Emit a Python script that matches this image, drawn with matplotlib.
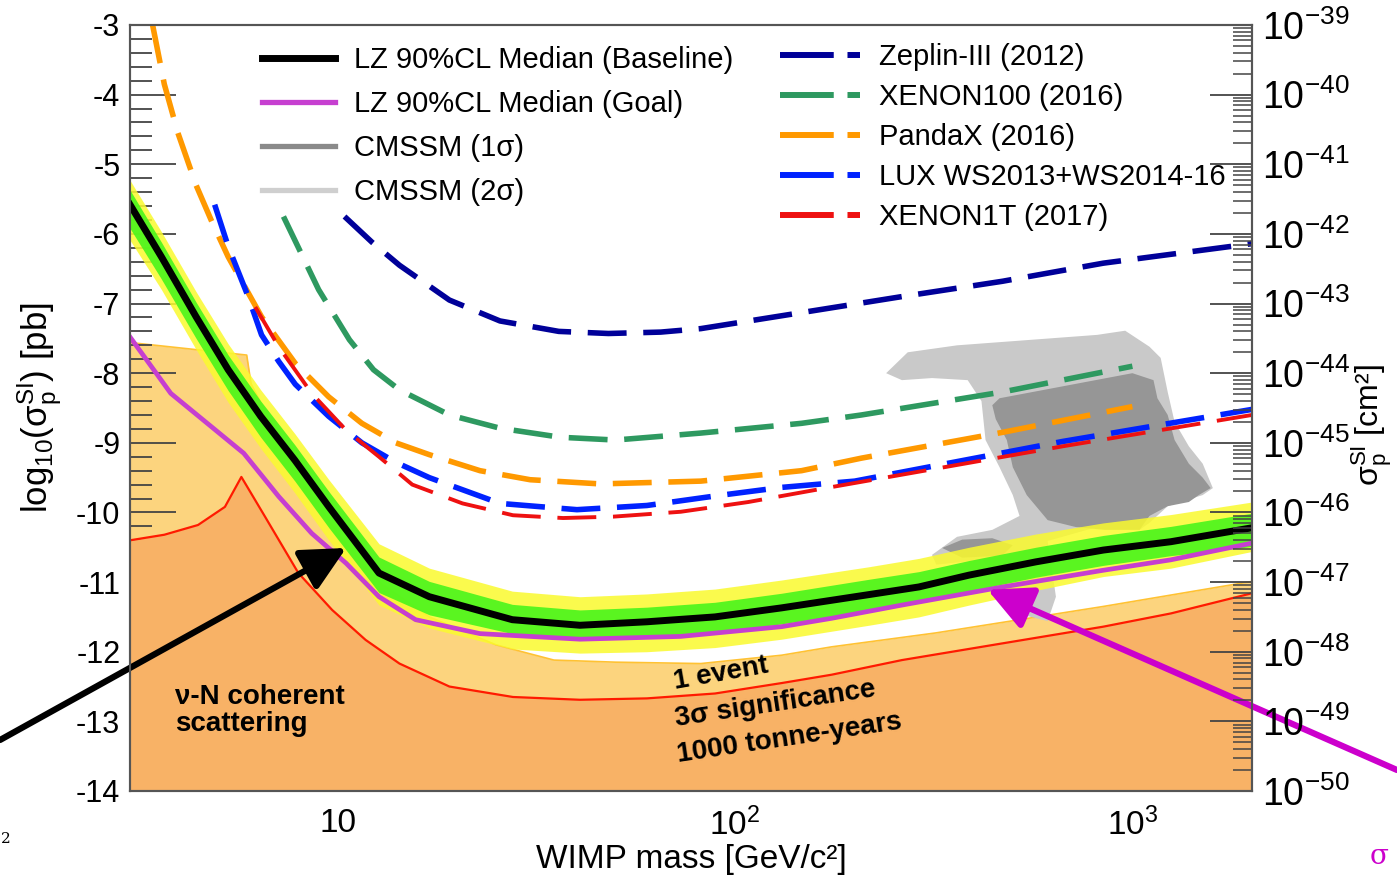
import numpy as np
import matplotlib
matplotlib.use('Agg')
from matplotlib import pyplot as plt
from matplotlib.lines import Line2D
from matplotlib.ticker import MultipleLocator, LogLocator, FixedLocator, NullFormatter, FuncFormatter

plt.rcParams['font.family'] = ['Liberation Sans', 'DejaVu Sans']
plt.rcParams['mathtext.fontset'] = 'custom'
plt.rcParams['mathtext.rm'] = 'Liberation Sans'
plt.rcParams['mathtext.it'] = 'Liberation Sans:italic'
plt.rcParams['mathtext.bf'] = 'Liberation Sans:bold'
plt.rcParams['axes.unicode_minus'] = False

# LZ projection (log10 sigma in pb), with 1 and 2 sigma bands
lz_mass = [3.0, 3.6, 4.4, 5.3, 6.4, 7.8, 9.5, 12.7, 17, 27.5, 40.7, 60, 89, 131, 217, 290, 388, 571, 845, 1250, 2000]
lz_base = [-5.58, -6.33, -7.19, -7.95, -8.62, -9.25, -9.92, -10.87, -11.21, -11.54, -11.62, -11.57, -11.50,
           -11.37, -11.18, -11.07, -10.90, -10.71, -10.54, -10.42, -10.22]
lz_g_hi = [-5.37, -6.12, -6.98, -7.74, -8.40, -9.03, -9.70, -10.64, -10.99, -11.32, -11.40, -11.36, -11.29,
           -11.16, -10.96, -10.85, -10.69, -10.50, -10.33, -10.20, -10.01]
lz_g_lo = [-5.92, -6.65, -7.50, -8.25, -8.92, -9.55, -10.22, -11.15, -11.47, -11.74, -11.80, -11.78, -11.72,
           -11.60, -11.41, -11.30, -11.13, -10.93, -10.76, -10.62, -10.49]
lz_y_hi = [-5.23, -5.97, -6.83, -7.58, -8.24, -8.87, -9.53, -10.45, -10.80, -11.13, -11.21, -11.17, -11.10,
           -10.97, -10.78, -10.66, -10.50, -10.31, -10.15, -10.03, -9.85]
lz_y_lo = [-6.09, -6.80, -7.66, -8.42, -9.08, -9.72, -10.40, -11.33, -11.66, -11.96, -12.02, -12.00, -11.94,
           -11.82, -11.62, -11.50, -11.33, -11.12, -10.92, -10.80, -10.56]

goal_mass = [3.0, 3.8, 5.8, 7.1, 8.6, 10.5, 12.7, 15.7, 22.8, 40.7, 73, 131, 175, 263, 471, 845, 1250, 2000]
goal = [-7.48, -8.29, -9.15, -9.77, -10.30, -10.73, -11.21, -11.54, -11.74, -11.82, -11.78, -11.64, -11.52,
        -11.33, -11.07, -10.83, -10.68, -10.44]

# existing limits
zep_mass = [10.4, 12.2, 14.3, 19.1, 25.6, 36, 48, 65, 82, 147, 263, 471, 845, 2000]
zep = [-5.75, -6.12, -6.45, -6.95, -7.25, -7.40, -7.43, -7.41, -7.36, -7.13, -6.90, -6.68, -6.42, -6.14]
x100_mass = [7.3, 8.95, 10.7, 12.3, 14.3, 19.1, 25.6, 36.3, 50, 82, 147, 208, 471, 1000]
x100 = [-5.75, -6.80, -7.52, -7.95, -8.24, -8.60, -8.79, -8.92, -8.96, -8.86, -8.72, -8.60, -8.27, -7.90]
pdx_mass = [3.42, 3.66, 3.96, 4.4, 4.8, 5.30, 6.43, 7.82, 9.49, 11.5, 14.0, 17.0, 22.8, 30.5, 45.8, 82, 147,
            208, 471, 1000]
pdx = [-3.0, -3.85, -4.55, -5.30, -5.80, -6.33, -7.19, -7.86, -8.34, -8.72, -9.00, -9.17, -9.40, -9.53, -9.59,
       -9.55, -9.40, -9.22, -8.85, -8.48]
lux_mass = [4.9, 5.3, 5.95, 6.43, 7.1, 7.82, 9.49, 11.5, 14.0, 17.0, 25.6, 40, 60, 90, 131, 200, 668, 2000]
lux = [-5.58, -6.18, -6.90, -7.45, -7.83, -8.16, -8.62, -9.00, -9.28, -9.50, -9.87, -9.96, -9.90, -9.76, -9.64,
       -9.55, -8.98, -8.52]
x1t_mass = [6.2, 7.1, 8.6, 10.5, 12.7, 15.4, 20.6, 27.6, 36.9, 49.4, 73, 108, 158, 668, 2000]
x1t = [-7.05, -7.62, -8.29, -8.82, -9.20, -9.60, -9.87, -10.04, -10.08, -10.06, -9.99, -9.85, -9.68, -9.05, -8.60]

# neutrino floors
nu1_mass = [3.0, 5.9, 6.05, 8.0, 10.0, 12.7, 17, 25, 30, 35, 50, 82, 131, 175, 320, 845, 2000]
nu1_top = [-7.56, -7.74, -8.15, -9.50, -10.30, -11.00, -11.50, -11.90, -12.02, -12.12, -12.15, -12.17, -12.05,
           -11.93, -11.73, -11.35, -10.99]
nu3_mass = [3.0, 3.66, 4.45, 5.2, 5.72, 6.56, 7.96, 9.68, 11.75, 14.3, 19.1, 27.6, 40.7, 60, 89, 131, 175,
            263, 471, 845, 1250, 2000]
nu3_top = [-10.40, -10.32, -10.18, -9.92, -9.49, -10.06, -10.87, -11.40, -11.83, -12.17, -12.50, -12.65, -12.69,
           -12.67, -12.60, -12.45, -12.33, -12.12, -11.88, -11.64, -11.45, -11.16]

# CMSSM regions
cm2_mass = [240, 272, 362, 815, 959, 1104, 1178, 1227, 1277, 1387, 1503, 1594, 1503, 1227, 1104, 1042, 815,
            612, 642, 612, 520, 420, 321, 313, 362, 444, 520, 500, 463, 427, 417, 385, 313, 263]
cm2_y = [-8.00, -7.70, -7.60, -7.45, -7.39, -7.62, -7.78, -8.27, -8.70, -9.05, -9.30, -9.65, -9.75, -9.91,
         -10.15, -10.25, -10.21, -10.41, -11.21, -11.56, -11.46, -10.68, -10.75, -10.61, -10.35, -10.25,
         -10.05, -9.75, -9.35, -8.96, -8.40, -8.10, -8.07, -8.10]
cm1_mass = [444, 463, 1000, 1130, 1156, 1227, 1277, 1387, 1503, 1574, 1469, 1387, 1227, 1104, 1042, 849, 721,
            612, 542, 500, 483, 453]
cm1_y = [-8.46, -8.36, -8.00, -8.10, -8.36, -8.60, -8.96, -9.30, -9.50, -9.65, -9.75, -9.85, -9.91, -10.05,
         -10.25, -10.25, -10.21, -10.11, -9.75, -9.35, -8.96, -8.66]
cm1b_mass = [332, 373, 444, 500, 471, 373]
cm1b_y = [-10.51, -10.39, -10.37, -10.47, -10.62, -10.65]

left_labels = ['LZ 90%CL Median (Baseline)', 'LZ 90%CL Median (Goal)', 'CMSSM (1σ)', 'CMSSM (2σ)']
right_labels = ['Zeplin-III (2012)', 'XENON100 (2016)', 'PandaX (2016)', 'LUX WS2013+WS2014-16', 'XENON1T (2017)']
cm2_decades = list(range(-50, -38))

fig = plt.figure(figsize=(13.97, 8.75), dpi=100)
ax = fig.add_axes([130 / 1397, 84 / 875, 1122 / 1397, 766 / 875])
ax.set_xscale('log')
ax.set_xlim(3, 2000)
ax.set_ylim(-14, -3)

ax.fill_between(nu1_mass, nu1_top, -14, color='#FCD47E', lw=0, zorder=1)
ax.plot(nu1_mass, nu1_top, color='#FFC233', lw=1.2, zorder=1.1)
ax.fill_between(nu3_mass, nu3_top, -14, color='#F8B266', lw=0, zorder=2)
ax.plot(nu3_mass, nu3_top, color='#FF1A00', lw=1.6, zorder=3)

ax.fill(cm2_mass, cm2_y, color='#C9C9C9', lw=0, zorder=3)
ax.fill(cm1_mass, cm1_y, color='#969696', lw=0, zorder=3.1)
ax.fill(cm1b_mass, cm1b_y, color='#969696', lw=0, zorder=3.1)

ax.fill_between(lz_mass, lz_y_lo, lz_y_hi, color='#FAFA2E', alpha=0.85, lw=0, zorder=4)
ax.fill_between(lz_mass, lz_g_lo, lz_g_hi, color='#4CF51C', alpha=0.92, lw=0, zorder=5)
ax.plot(goal_mass, goal, color='#C63FD0', lw=3.4, zorder=6)
ax.plot(lz_mass, lz_base, color='black', lw=5, zorder=7)

dashed = [(zep_mass, zep, '#000099', 4.0), (x100_mass, x100, '#2E9960', 4.0),
          (pdx_mass, pdx, '#FF9900', 4.0), (lux_mass, lux, '#0022FF', 4.0), (x1t_mass, x1t, '#EE1111', 2.8)]
for m, v, c, w in dashed:
    ax.plot(m, v, color=c, lw=w, dashes=(7, 3) if w > 3 else (10, 4.3), zorder=8)

h_left = [Line2D([], [], color='black', lw=5), Line2D([], [], color='#C63FD0', lw=3.8),
          Line2D([], [], color='#8A8A8A', lw=3.8), Line2D([], [], color='#CFCFCF', lw=3.8)]
h_right = [Line2D([], [], color=c, lw=4.3, dashes=(9, 2.3)) for _, _, c, _ in dashed]
leg1 = ax.legend(h_left, left_labels, loc='upper left', bbox_to_anchor=(262 / 1397, 1 - 46 / 875),
                 bbox_transform=fig.transFigure, frameon=False, fontsize=21, handlelength=2.5,
                 handletextpad=0.65, labelspacing=0.55, borderpad=0, borderaxespad=0)
leg1.set_zorder(20)
ax.add_artist(leg1)
leg2 = ax.legend(h_right, right_labels, loc='upper left', bbox_to_anchor=(780 / 1397, 1 - 43 / 875),
                 bbox_transform=fig.transFigure, frameon=False, fontsize=21, handlelength=2.75,
                 handletextpad=0.65, labelspacing=0.41, borderpad=0, borderaxespad=0)
leg2.set_zorder(20)

ax.text(3.9, -12.85, 'ν-N coherent\nscattering', fontsize=20, fontweight='bold', va='center', ha='left',
        linespacing=1.05, zorder=9)
ax.text(92, -12.32, '1 event', fontsize=20, fontweight='bold', rotation=10, ha='center', va='center', zorder=9)
ax.text(126, -12.76, '3σ significance', fontsize=20, fontweight='bold', rotation=8.5, ha='center', va='center',
        zorder=9)
ax.text(137, -13.25, '1000 tonne-years', fontsize=20, fontweight='bold', rotation=8.5, ha='center',
        va='center', zorder=9)

ax.set_yticks(range(-14, -2))
ax.set_yticklabels([str(v) for v in range(-14, -2)])
ax.yaxis.set_minor_locator(MultipleLocator(0.2))
ax.set_xticks([10, 100, 1000])
ax.set_xticklabels(['10', '$10^2$', '$10^3$'])
ax.xaxis.set_minor_locator(LogLocator(base=10, subs=np.arange(2, 10), numticks=20))
ax.xaxis.set_minor_formatter(NullFormatter())
ax.tick_params(axis='y', which='major', direction='in', length=33, width=1.3, labelsize=22, pad=7,
               right=False, color='#444444')
ax.tick_params(axis='y', which='minor', direction='in', length=16, width=1.3, right=False, color='#444444')
ax.tick_params(axis='x', which='major', direction='in', length=22, width=1.3, labelsize=24, pad=12,
               top=False, color='#444444')
ax.tick_params(axis='x', which='minor', direction='in', length=10, width=1.3, top=False, color='#444444')
ax.set_xlabel('WIMP mass [GeV/c²]', fontsize=24, labelpad=1)
ax.set_ylabel(r'log$_{10}$(σ$_\mathrm{p}^\mathrm{SI}$) [pb]', fontsize=25, labelpad=8)

ax2 = ax.twinx()
ax2.set_yscale('log')
ax2.set_ylim(1e-50, 1e-39)
ax2.yaxis.set_major_locator(FixedLocator([10.0 ** d for d in cm2_decades]))
ax2.yaxis.set_minor_locator(FixedLocator([k * 10.0 ** d for d in cm2_decades[:-1] for k in range(2, 10)]))
ax2.yaxis.set_minor_formatter(NullFormatter())
ax2.yaxis.set_major_formatter(FuncFormatter(lambda v, p: '$10^{%d}$' % int(round(np.log10(v)))))
ax2.tick_params(which='major', direction='in', length=30, width=1.3, labelsize=27, pad=7, color='#444444')
ax2.tick_params(which='minor', direction='in', length=14, width=1.1, color='#444444')
for a in (ax, ax2):
    for s in a.spines.values():
        s.set_color('#555555')
        s.set_linewidth(1.5)
fig.text(1372 / 1397, 1 - 425 / 875, r'σ$_\mathrm{p}^\mathrm{SI}$ [cm²]', fontsize=23, rotation=90,
         ha='center', va='center')

ax.annotate('', xy=(10.5, -10.51), xytext=(0.0, 1 - 740 / 875), textcoords='figure fraction',
            arrowprops=dict(arrowstyle='-|>,head_length=0.9,head_width=0.45', mutation_scale=30,
                            color='black', lw=4.5, shrinkA=0, shrinkB=0), zorder=30)
ax.annotate('', xy=(432, -11.11), xytext=(1.0, 1 - 770 / 875), textcoords='figure fraction',
            arrowprops=dict(arrowstyle='-|>,head_length=0.9,head_width=0.45', mutation_scale=30,
                            color='#CC00CC', lw=4.5, shrinkA=0, shrinkB=0), zorder=30)

fig.text(0.001, 1 - 843 / 875, '2', fontsize=11, family='DejaVu Serif')
fig.text(1370 / 1397, 1 - 864 / 875, 'σ', fontsize=20, family='DejaVu Serif', color='#CC00CC')

fig.savefig('out.png', dpi=100)
